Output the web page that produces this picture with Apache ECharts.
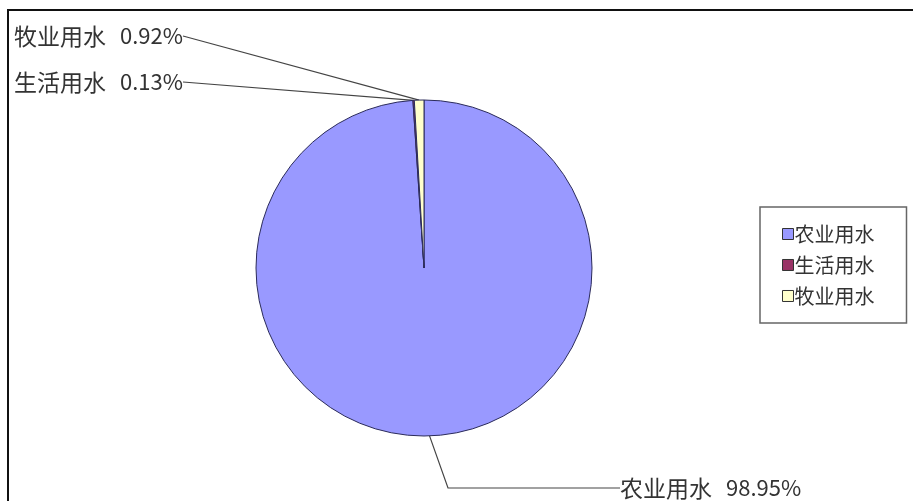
<!DOCTYPE html>
<html lang="zh">
<head>
    <meta charset="utf-8">
    <title>用水结构</title>
    <script src="https://cdn.jsdelivr.net/npm/echarts@6/dist/echarts.min.js"></script>
    <style>
        html, body { margin: 0; padding: 0; background: #fff; }
        #main { width: 913px; height: 501px; }
    </style>
</head>
<body>
    <div id="main"></div>
    <script type="text/javascript">
        // 数据
        var names = ['农业用水', '生活用水', '牧业用水'];
        var values = [98.95, 0.13, 0.92];
        var colors = ['#9999FF', '#993366', '#FFFFCC'];

        // 标签位置 (x, y, 对齐, 引导线 length2)
        var labelPos = [
            { x: 620, y: 488, align: 'left', len2: 172 },
            { x: 14, y: 82, align: 'left', len2: 0 },
            { x: 14, y: 36, align: 'left', len2: 0 }
        ];

        var font = '"Noto Sans CJK SC", "Noto Sans", sans-serif';

        var myChart = echarts.init(document.getElementById('main'));

        myChart.setOption({
            animation: false,
            backgroundColor: '#fff',
            graphic: [{
                type: 'rect',
                shape: { x: 8, y: 10, width: 940, height: 520 },
                style: { fill: 'none', stroke: '#111', lineWidth: 2 },
                silent: true
            }],
            legend: {
                orient: 'vertical',
                left: 760,
                top: 207,
                padding: [17, 32, 17, 22],
                itemGap: 11,
                itemWidth: 11,
                itemHeight: 11,
                icon: 'rect',
                borderColor: '#666',
                borderWidth: 1.5,
                itemStyle: { borderColor: '#333', borderWidth: 1 },
                textStyle: { fontFamily: font, fontSize: 20, color: '#333', padding: [0, 0, 0, -4] },
                data: names
            },
            series: [{
                type: 'pie',
                center: [424, 268],
                radius: 168,
                startAngle: 90,
                clockwise: true,
                itemStyle: { borderColor: '#2a2a5a', borderWidth: 1 },
                label: {
                    show: true,
                    color: '#333',
                    formatter: function (p) {
                        return '{n|' + p.name + '}{v|' + p.value.toFixed(2) + '%}';
                    },
                    rich: {
                        n: { fontFamily: font, fontSize: 23, color: '#333' },
                        v: { fontFamily: font, fontSize: 22, color: '#333', padding: [0, 0, 0, 14] }
                    }
                },
                labelLine: {
                    show: true,
                    lineStyle: { color: '#444', width: 1.2 }
                },
                labelLayout: function (params) {
                    var pos = labelPos[params.dataIndex];
                    return {
                        x: pos.x,
                        y: pos.y,
                        align: pos.align,
                        verticalAlign: 'middle',
                        hideOverlap: false,
                        moveOverlap: false
                    };
                },
                data: names.map(function (n, i) {
                    return {
                        name: n,
                        value: values[i],
                        itemStyle: { color: colors[i] },
                        labelLine: { length2: labelPos[i].len2 }
                    };
                })
            }]
        });
    </script>
</body>
</html>
